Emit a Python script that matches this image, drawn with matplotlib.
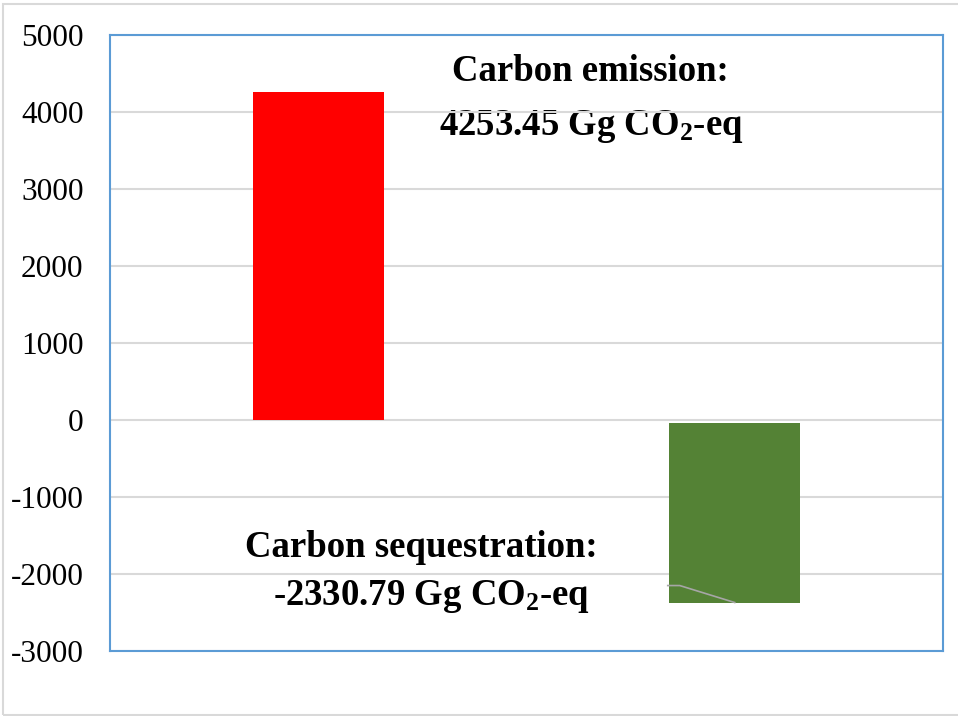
import matplotlib
matplotlib.use("Agg")
import matplotlib.pyplot as plt
from matplotlib.patches import Rectangle
from matplotlib.lines import Line2D
from matplotlib.transforms import IdentityTransform

# Data
categories = ["Carbon emission", "Carbon sequestration"]
values = [4253.45, -2330.79]
bar_base = [0.0, -40.0]
bar_colors = ["#FF0000", "#548235"]
y_ticks = [-3000, -2000, -1000, 0, 1000, 2000, 3000, 4000, 5000]

W, H = 958, 716
plt.rcParams["mathtext.fontset"] = "custom"
plt.rcParams["mathtext.rm"] = "Liberation Serif:bold"
plt.rcParams["mathtext.it"] = "Liberation Serif:bold"
plt.rcParams["mathtext.bf"] = "Liberation Serif:bold"

fig = plt.figure(figsize=(W / 100, H / 100), dpi=100)


def fx(x):
    return x / W


def fy(y):
    return 1 - y / H


# Outer chart frame
fig.add_artist(Rectangle((fx(3), fy(715)), fx(960) - fx(3), fy(4) - fy(715),
                         transform=fig.transFigure, fill=False,
                         edgecolor="#D9D9D9", linewidth=1.5))

ax = fig.add_axes([fx(110), fy(651), fx(943) - fx(110), fy(35) - fy(651)])
x = list(range(len(categories)))
ax.bar(x, values, bottom=bar_base, width=0.315, color=bar_colors, zorder=2)

ax.set_xlim(-0.5, len(categories) - 0.5)
ax.set_ylim(min(y_ticks), max(y_ticks))
ax.set_yticks(y_ticks)
ax.set_yticklabels([str(t) for t in y_ticks], fontfamily="Liberation Serif",
                   fontsize=22.5)
ax.tick_params(axis="y", length=0, pad=19)
ax.set_xticks([])
ax.set_axisbelow(True)
ax.grid(axis="y", color="#D9D9D9", linewidth=1.5)
for s in ax.spines.values():
    s.set_color("#5B9BD5")
    s.set_linewidth(1.5)

# Annotations
tfont = dict(fontfamily="Liberation Serif", fontweight="bold", fontsize=26.5,
             ha="center", va="baseline", transform=fig.transFigure, zorder=0.3)
ax.text(fx(590), fy(81), "Carbon emission:", **tfont)
ax.text(fx(591), fy(135), f"{values[0]:.2f} Gg CO$_2$-eq", **tfont)
ax.text(fx(421), fy(557), "Carbon sequestration:", **tfont)
ax.text(fx(431), fy(605), f"{values[1]:.2f} Gg CO$_2$-eq", **tfont)

# Leader line from the sequestration label to its bar
end_x, end_y = ax.transData.transform((x[1], bar_base[1] + values[1]))
lx = [end_x - 67, end_x - 55, end_x]
ly = [end_y + 17, end_y + 17, end_y]
fig.add_artist(Line2D(lx, ly, transform=IdentityTransform(),
                      color="#A6A6A6", linewidth=1.2, zorder=3))

fig.savefig("out.png", dpi=100)
